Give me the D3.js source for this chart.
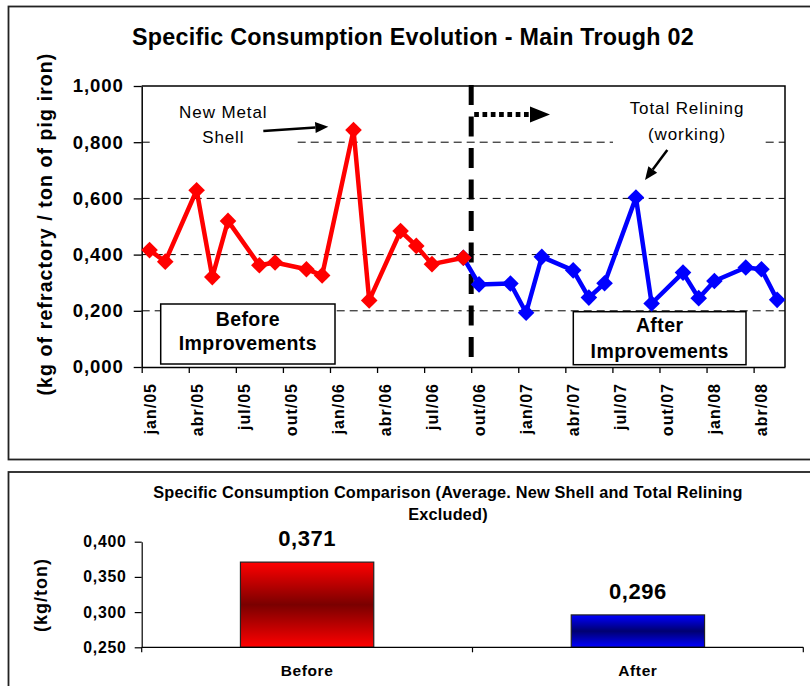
<!DOCTYPE html>
<html>
<head>
<meta charset="utf-8">
<script src="https://cdn.jsdelivr.net/npm/d3@7"></script>
<style>
  html, body { margin: 0; padding: 0; background: #fff; }
  svg { display: block; font-family: "Liberation Sans", Arial, sans-serif; }
</style>
</head>
<body>
<svg id="chart" width="810" height="686"></svg>
<script>
// ---------------- DATA ----------------
const axisStart = "2005-01";
const axisMonths = 41;
const tickLabels = ["jan/05","abr/05","jul/05","out/05","jan/06","abr/06","jul/06","out/06","jan/07","abr/07","jul/07","out/07","jan/08","abr/08"];
const yTicks = [0, 0.2, 0.4, 0.6, 0.8, 1.0];
const gridValues = [0.2, 0.4, 0.6, 0.8];

const beforeMonths = ["2005-01","2005-02","2005-04","2005-05","2005-06","2005-08","2005-09","2005-11","2005-12","2006-02","2006-03","2006-05","2006-06","2006-07","2006-09"];
const beforeValues = [0.416,0.375,0.629,0.320,0.520,0.362,0.372,0.348,0.326,0.843,0.237,0.484,0.431,0.366,0.389];

const afterMonths = ["2006-09","2006-10","2006-12","2007-01","2007-02","2007-04","2007-05","2007-06","2007-08","2007-09","2007-11","2007-12","2008-01","2008-03","2008-04","2008-05"];
const afterValues = [0.389,0.294,0.297,0.193,0.392,0.344,0.247,0.298,0.603,0.226,0.336,0.245,0.306,0.354,0.348,0.239];

const dividerMonth = "2006-10";

const barCategories = ["Before","After"];
const barValues = [0.371, 0.296];
const barTicks = [0.25, 0.30, 0.35, 0.40];

// ---------------- HELPERS ----------------
const svg = d3.select("#chart");
const FONT = '"Liberation Sans", Arial, sans-serif';
const monthIndex = s => {
  const [y, m] = s.split("-").map(Number);
  const [y0, m0] = axisStart.split("-").map(Number);
  return (y - y0) * 12 + (m - m0);
};
const commaFmt = d => d3.format(".3f")(d).replace(".", ",");
const diamond = r => `M0,${-r}L${r},0L0,${r}L${-r},0Z`;

// ---------------- FRAMES ----------------
svg.append("rect").attr("x", 8.5).attr("y", 6.5).attr("width", 840).attr("height", 453)
  .attr("fill", "#fff").attr("stroke", "#222").attr("stroke-width", 1.8);
svg.append("rect").attr("x", 8.5).attr("y", 472).attr("width", 840).attr("height", 260)
  .attr("fill", "#fff").attr("stroke", "#222").attr("stroke-width", 1.8);

// ---------------- TOP CHART ----------------
const P = { left: 141.7, right: 785, top: 86, bottom: 367 };
const x = d3.scaleLinear().domain([0, axisMonths]).range([P.left, P.right]);
const y = d3.scaleLinear().domain([0, 1]).range([P.bottom, P.top]);
const xm = s => x(monthIndex(s) + 0.5);

// title
svg.append("text").attr("x", 413).attr("y", 45).attr("text-anchor", "middle")
  .attr("font-size", 23.3).attr("font-weight", "bold").attr("letter-spacing", 0.25)
  .text("Specific Consumption Evolution - Main Trough 02");

// gridlines
svg.append("g").selectAll("line").data(gridValues).join("line")
  .attr("x1", P.left).attr("x2", P.right)
  .attr("y1", d => y(d)).attr("y2", d => y(d))
  .attr("stroke", "#000").attr("stroke-width", 1).attr("stroke-dasharray", "8,5");

// plot border top/right
svg.append("path").attr("d", `M${P.left},${P.top}H${P.right}V${P.bottom}`)
  .attr("fill", "none").attr("stroke", "#000").attr("stroke-width", 1.5);

// annotation backgrounds (cover gridlines)
svg.append("rect").attr("x", 150).attr("y", 96).attr("width", 145).attr("height", 54).attr("fill", "#fff");
svg.append("rect").attr("x", 613).attr("y", 95).attr("width", 148).attr("height", 52).attr("fill", "#fff");

// y axis
const yAxis = svg.append("g").attr("transform", `translate(${P.left},0)`)
  .call(d3.axisLeft(y).tickValues(yTicks).tickFormat(commaFmt).tickSize(8).tickSizeOuter(0).tickPadding(10));
yAxis.select(".domain").attr("stroke", "#000").attr("stroke-width", 1.5);
yAxis.selectAll(".tick line").attr("stroke", "#000").attr("stroke-width", 1.3);
yAxis.selectAll(".tick text").attr("font-family", FONT).attr("font-size", 18.6)
  .attr("font-weight", "bold").attr("fill", "#000").attr("letter-spacing", 0.9);

// y axis title
svg.append("text").attr("transform", "translate(52,224) rotate(-90)").attr("text-anchor", "middle")
  .attr("font-size", 19.5).attr("font-weight", "bold").attr("letter-spacing", 1.1)
  .text("(kg of refractory / ton of pig iron)");

// x axis
const tickIdx = tickLabels.map((_, i) => i * 3);
const xAxis = svg.append("g").attr("transform", `translate(0,${P.bottom})`)
  .call(d3.axisBottom(x).tickValues(tickIdx).tickFormat((d, i) => tickLabels[i]).tickSize(6).tickSizeOuter(0));
xAxis.select(".domain").attr("stroke", "#000").attr("stroke-width", 1.5);
xAxis.selectAll(".tick line").attr("stroke", "#000").attr("stroke-width", 1.3);
const halfMonth = (x(1) - x(0)) / 2;
xAxis.selectAll(".tick text")
  .attr("font-family", FONT).attr("font-size", 16).attr("font-weight", "bold").attr("fill", "#000")
  .attr("letter-spacing", 1)
  .attr("y", null).attr("dy", null)
  .attr("text-anchor", "end").attr("dominant-baseline", "central")
  .attr("transform", `translate(${halfMonth},16) rotate(-90)`);

// divider vertical dashed line
const xDiv = x(monthIndex(dividerMonth));
svg.append("line").attr("x1", xDiv).attr("x2", xDiv).attr("y1", P.top - 1).attr("y2", 358)
  .attr("stroke", "#000").attr("stroke-width", 5).attr("stroke-dasharray", "20,11.5");

// dotted arrow
svg.append("line").attr("x1", xDiv + 3).attr("x2", 531).attr("y1", 114.5).attr("y2", 114.5)
  .attr("stroke", "#000").attr("stroke-width", 5).attr("stroke-dasharray", "4.7,3.6");
svg.append("path").attr("d", "M530,106.5L550,114.5L530,122.5Z").attr("fill", "#000");

// boxes
function box(x0, y0, w, h, lines, baselines) {
  svg.append("rect").attr("x", x0).attr("y", y0).attr("width", w).attr("height", h)
    .attr("fill", "#fff").attr("stroke", "#000").attr("stroke-width", 1.5);
  lines.forEach((t, i) => svg.append("text").attr("x", x0 + w / 2).attr("y", baselines[i])
    .attr("text-anchor", "middle").attr("font-size", 19.5).attr("font-weight", "bold")
    .attr("letter-spacing", 0.4).text(t));
}
box(160.7, 304, 174.3, 60, ["Before", "Improvements"], [325.5, 350]);
box(573.3, 311.7, 172.7, 53, ["After", "Improvements"], [332, 357.5]);

// lines & markers
const line = d3.line().x(d => xm(d.m)).y(d => y(d.v));
const afterData = afterMonths.map((m, i) => ({ m, v: afterValues[i] }));
const beforeData = beforeMonths.map((m, i) => ({ m, v: beforeValues[i] }));

svg.append("path").datum(afterData).attr("d", line).attr("fill", "none")
  .attr("stroke", "#0000FF").attr("stroke-width", 4.5).attr("stroke-linejoin", "round");
svg.append("g").selectAll("path").data(afterData).join("path")
  .attr("d", diamond(8.3)).attr("transform", d => `translate(${xm(d.m)},${y(d.v)})`).attr("fill", "#0000FF");

svg.append("path").datum(beforeData).attr("d", line).attr("fill", "none")
  .attr("stroke", "#FF0000").attr("stroke-width", 4.5).attr("stroke-linejoin", "round");
svg.append("g").selectAll("path").data(beforeData).join("path")
  .attr("d", diamond(8.3)).attr("transform", d => `translate(${xm(d.m)},${y(d.v)})`).attr("fill", "#FF0000");

// annotations
function annText(cx, baselines, lines) {
  lines.forEach((t, i) => svg.append("text").attr("x", cx).attr("y", baselines[i]).attr("text-anchor", "middle")
    .attr("font-size", 17).attr("letter-spacing", 0.9).text(t));
}
annText(223.3, [118.3, 143.3], ["New Metal", "Shell"]);
annText(687, [114.3, 140], ["Total Relining", "(working)"]);

function arrow(x1, y1, x2, y2) {
  const a = Math.atan2(y2 - y1, x2 - x1), L = 13, W = 5.5;
  const bx = x2 - L * Math.cos(a), by = y2 - L * Math.sin(a);
  svg.append("line").attr("x1", x1).attr("y1", y1).attr("x2", bx).attr("y2", by)
    .attr("stroke", "#000").attr("stroke-width", 2.5);
  const px = -Math.sin(a) * W, py = Math.cos(a) * W;
  svg.append("path").attr("d", `M${x2},${y2}L${bx + px},${by + py}L${bx - px},${by - py}Z`).attr("fill", "#000");
}
arrow(263.3, 131, 328.3, 126.7);
arrow(667.3, 150, 645, 180);

// ---------------- BOTTOM CHART ----------------
const B = { left: 141.7, right: 803.3, top: 541.7, bottom: 647.3 };
const by = d3.scaleLinear().domain([0.25, 0.40]).range([B.bottom, B.top]);
const bx = d3.scaleBand().domain(barCategories).range([B.left, B.right]).paddingInner(0.597).paddingOuter(0.2985);

// gradients
const defs = svg.append("defs");
function grad(id, edge, mid) {
  const g = defs.append("linearGradient").attr("id", id).attr("x1", 0).attr("x2", 0).attr("y1", 0).attr("y2", 1);
  g.append("stop").attr("offset", "0%").attr("stop-color", edge);
  g.append("stop").attr("offset", "50%").attr("stop-color", mid);
  g.append("stop").attr("offset", "100%").attr("stop-color", edge);
}
grad("gBefore", "#FF0000", "#7A0000");
grad("gAfter", "#0000FF", "#000070");
const barFill = ["url(#gBefore)", "url(#gAfter)"];

svg.append("text").attr("x", 448).attr("y", 498.3).attr("text-anchor", "middle")
  .attr("font-size", 16.3).attr("font-weight", "bold").attr("letter-spacing", 0.2)
  .text("Specific Consumption Comparison (Average. New Shell and Total Relining");
svg.append("text").attr("x", 448).attr("y", 520).attr("text-anchor", "middle")
  .attr("font-size", 16.3).attr("font-weight", "bold").attr("letter-spacing", 0.2)
  .text("Excluded)");

// bars
svg.append("g").selectAll("rect").data(barCategories).join("rect")
  .attr("x", d => bx(d)).attr("width", bx.bandwidth())
  .attr("y", (d, i) => by(barValues[i])).attr("height", (d, i) => by(0.25) - by(barValues[i]))
  .attr("fill", (d, i) => barFill[i]).attr("stroke", "#222").attr("stroke-width", 1.2);

// value labels
svg.append("g").selectAll("text").data(barCategories).join("text")
  .attr("x", d => bx(d) + bx.bandwidth() / 2).attr("y", (d, i) => by(barValues[i]) - 16)
  .attr("text-anchor", "middle").attr("font-size", 22).attr("font-weight", "bold").attr("letter-spacing", 0.5)
  .text((d, i) => commaFmt(barValues[i]));

// y axis
const byAxis = svg.append("g").attr("transform", `translate(${B.left},0)`)
  .call(d3.axisLeft(by).tickValues(barTicks).tickFormat(commaFmt).tickSize(7).tickSizeOuter(0).tickPadding(8));
byAxis.select(".domain").attr("stroke", "#000").attr("stroke-width", 1.2);
byAxis.selectAll(".tick line").attr("stroke", "#000").attr("stroke-width", 1.2);
byAxis.selectAll(".tick text").attr("font-family", FONT).attr("font-size", 15.8)
  .attr("font-weight", "bold").attr("fill", "#000").attr("letter-spacing", 0.8);

// x axis (category boundaries)
const bxAxisG = svg.append("g").attr("transform", `translate(0,${B.bottom})`);
bxAxisG.append("line").attr("x1", B.left).attr("x2", B.right).attr("stroke", "#000").attr("stroke-width", 1.2);
const boundaries = [B.left, (B.left + B.right) / 2, B.right];
bxAxisG.selectAll("line.t").data(boundaries).join("line").attr("class", "t")
  .attr("x1", d => d).attr("x2", d => d).attr("y1", 0).attr("y2", 5).attr("stroke", "#000").attr("stroke-width", 1.2);
bxAxisG.selectAll("text").data(barCategories).join("text")
  .attr("x", d => bx(d) + bx.bandwidth() / 2).attr("y", 29)
  .attr("text-anchor", "middle").attr("font-size", 15.5).attr("font-weight", "bold").attr("letter-spacing", 0.6)
  .text(d => d);

svg.append("text").attr("transform", "translate(47,595) rotate(-90)").attr("text-anchor", "middle")
  .attr("font-size", 18).attr("font-weight", "bold").attr("letter-spacing", 1).text("(kg/ton)");
</script>
</body>
</html>
